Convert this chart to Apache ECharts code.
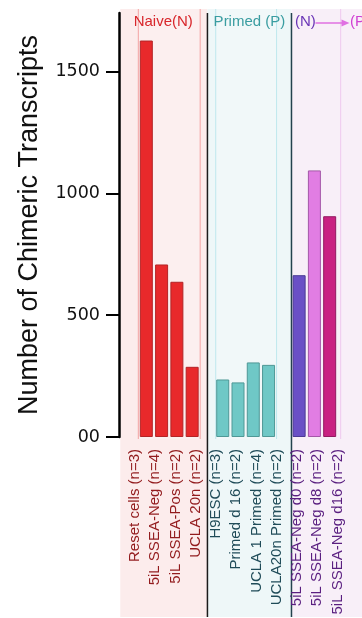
<!DOCTYPE html>
<html>
<head>
<meta charset="utf-8">
<script src="https://cdn.jsdelivr.net/npm/echarts@6/dist/echarts.min.js"></script>
<style>
  html, body { margin: 0; padding: 0; background: #ffffff; }
  #chart { width: 362px; height: 618px; }
</style>
</head>
<body>
<div id="chart"></div>
<script>
// ---- data ----
const naiveLabels = ['Reset cells (n=3)', '5iL SSEA-Neg (n=4)', '5iL SSEA-Pos (n=2)', 'UCLA 20n (n=2)'];
const naiveValues = [1627, 708, 637, 288];

const primedLabels = ['H9ESC (n=3)', 'Primed d 16 (n=2)', 'UCLA 1 Primed (n=4)', 'UCLA20n Primed (n=2)'];
const primedValues = [236, 224, 306, 296];

const transitionLabels = ['5iL SSEA-Neg d0 (n=2)', '5iL SSEA-Neg d8 (n=2)', '5iL SSEA-Neg d16 (n=2)'];
const transitionValues = [664, 1094, 906];

const yTickValues = [0, 500, 1000, 1500];
const yTickLabels = ['00', '500', '1000', '1500'];

const panelTitles = ['Naive(N)', 'Primed (P)', '(N)', '(P)'];
const yAxisTitle = 'Number of Chimeric Transcripts';

// ---- styles ----
const naiveFill = '#e8292b', naiveEdge = '#b32426', naiveText = '#921b1d';
const primedFill = '#6fc8c6', primedEdge = '#4f9896', primedText = '#1f4b58';
const transitionFills = ['#6a50c6', '#e17de3', '#c92282'];
const transitionEdges = ['#4b3a94', '#a458a8', '#911a60'];
const transitionText = '#5a1f80';

const FONT = 'Liberation Sans, Arial, Helvetica, sans-serif';

// bar axis: one empty slot before each panel
const barCats = ['pad0'].concat(naiveLabels, ['pad1'], primedLabels, ['pad2'], transitionLabels);

const barData = ['-'];
naiveValues.forEach(v => barData.push({ value: v, itemStyle: { color: naiveFill, borderColor: naiveEdge } }));
barData.push('-');
primedValues.forEach(v => barData.push({ value: v, itemStyle: { color: primedFill, borderColor: primedEdge } }));
barData.push('-');
transitionValues.forEach((v, i) => barData.push({ value: v, itemStyle: { color: transitionFills[i], borderColor: transitionEdges[i] } }));

// label axis: group names, evenly spaced, coloured by panel
const labelCats = []
  .concat(naiveLabels.map(t => ({ value: t, textStyle: { color: naiveText } })))
  .concat(primedLabels.map(t => ({ value: t, textStyle: { color: primedText } })))
  .concat(transitionLabels.map(t => ({ value: t, textStyle: { color: transitionText } })));

const GRID_TOP = 13, GRID_H = 424;
const SLOT = 15.28;
const BAR_LEFT = 123.4;
const LABEL_SLOT = 20.25;
const LABEL_LEFT = 124.9;

const chart = echarts.init(document.getElementById('chart'), null, { renderer: 'canvas' });

chart.setOption({
  animation: false,
  backgroundColor: '#ffffff',
  grid: [
    { left: BAR_LEFT, top: GRID_TOP, width: SLOT * barCats.length, height: GRID_H, containLabel: false },
    { left: LABEL_LEFT, top: GRID_TOP, width: LABEL_SLOT * labelCats.length, height: GRID_H, containLabel: false }
  ],
  xAxis: [
    {
      gridIndex: 0, type: 'category', data: barCats,
      axisLine: { show: false }, axisTick: { show: false }, axisLabel: { show: false }, splitLine: { show: false }
    },
    {
      gridIndex: 1, type: 'category', data: labelCats,
      axisLine: { show: false }, axisTick: { show: false }, splitLine: { show: false },
      axisLabel: { interval: 0, rotate: 90, margin: 12, fontSize: 15, fontFamily: FONT }
    }
  ],
  yAxis: [
    {
      gridIndex: 0, type: 'value', min: 0, max: 1740, interval: 500, offset: 4.4,
      name: yAxisTitle, nameLocation: 'middle', nameGap: 76,
      nameTextStyle: { fontSize: 27, fontFamily: FONT, color: '#111111' },
      axisLine: { show: true, lineStyle: { color: '#000000', width: 2.5 } },
      axisTick: { show: true, length: 13, customValues: yTickValues, lineStyle: { color: '#000000', width: 2 } },
      axisLabel: {
        margin: 19, fontSize: 17.5, fontFamily: 'DejaVu Sans, sans-serif', color: '#111111',
        customValues: yTickValues,
        formatter: v => yTickLabels[yTickValues.indexOf(v)]
      },
      splitLine: { show: false }
    },
    { gridIndex: 1, type: 'value', show: false }
  ],
  series: [
    {
      type: 'bar', xAxisIndex: 0, yAxisIndex: 0, data: barData,
      barWidth: 13, itemStyle: { borderWidth: 1 }, z: 5
    }
  ]
});

// ---- panel backgrounds, separators and headers ----
function buildGraphic() {
  const W = chart.getWidth(), H = chart.getHeight();
  const cx = i => chart.convertToPixel({ xAxisIndex: 0 }, i);
  const base = chart.convertToPixel({ yAxisIndex: 0 }, 0);
  const w = cx(1) - cx(0);
  const axisX = BAR_LEFT - 4.4;
  const sep1 = cx(5);
  const sep2 = cx(11) - w / 2;
  const top = 9, bottom = H - 1;
  const els = [];

  const rect = (x1, x2, y1, y2, style, z) => els.push({
    type: 'rect', z, silent: true,
    shape: { x: x1, y: y1, width: x2 - x1, height: y2 - y1 }, style
  });
  const vline = (x, y1, y2, stroke, lw, z) => els.push({
    type: 'line', z, silent: true,
    shape: { x1: x, y1, x2: x, y2 }, style: { stroke, lineWidth: lw }
  });

  rect(axisX + 1.3, sep1, top, bottom, { fill: '#fcecec' }, -10);
  rect(sep1, sep2, top, bottom, { fill: '#eef7f8' }, -10);
  rect(sep2, W, top, bottom, { fill: '#f8eff8' }, -10);

  // thin guides marking each panel's bar block
  rect(cx(1) - 8, cx(4) + 8, top, base + 2, { fill: 'rgba(255,255,255,0.2)' }, -9);
  vline(cx(1) - 8, top, base + 2, '#f3a3a3', 1, -9);
  vline(cx(4) + 8, top, base + 2, '#f3a3a3', 1, -9);
  rect(cx(6) - 7, cx(9) + 8, top, base + 2, { fill: 'rgba(255,255,255,0.2)' }, -9);
  vline(cx(6) - 7, top, base + 2, '#bfe8ee', 1, -9);
  vline(cx(9) + 8, top, base + 2, '#bfe8ee', 1, -9);
  vline(cx(13) + 11, top, base + 2, '#efc8ef', 1, -9);

  vline(sep1, GRID_TOP, bottom, '#1b1b1b', 1.5, -8);
  vline(sep2, GRID_TOP, bottom, '#24424e', 1.5, -8);

  const hy = 22;
  const text = (x, str, color, align) => els.push({
    type: 'text', z: 20, silent: true, x, y: hy,
    style: { text: str, fill: color, font: '15px ' + FONT, align, verticalAlign: 'middle' }
  });
  text((axisX + sep1) / 2, panelTitles[0], '#d8262b', 'center');
  text((sep1 + sep2) / 2, panelTitles[1], '#3a9da1', 'center');
  text(sep2 + 3.5, panelTitles[2], '#6a35b6', 'left');
  els.push({
    type: 'line', z: 20, silent: true,
    shape: { x1: sep2 + 24, y1: hy + 1, x2: sep2 + 52, y2: hy + 1 },
    style: { stroke: '#e070e2', lineWidth: 1.5 }
  });
  els.push({
    type: 'polygon', z: 20, silent: true,
    shape: { points: [[sep2 + 50, hy - 2.5], [sep2 + 58, hy + 1], [sep2 + 50, hy + 4.5]] },
    style: { fill: '#e070e2' }
  });
  text(sep2 + 58.5, panelTitles[3], '#d040d2', 'left');
  return els;
}

chart.setOption({ graphic: { elements: buildGraphic() } });
</script>
</body>
</html>
